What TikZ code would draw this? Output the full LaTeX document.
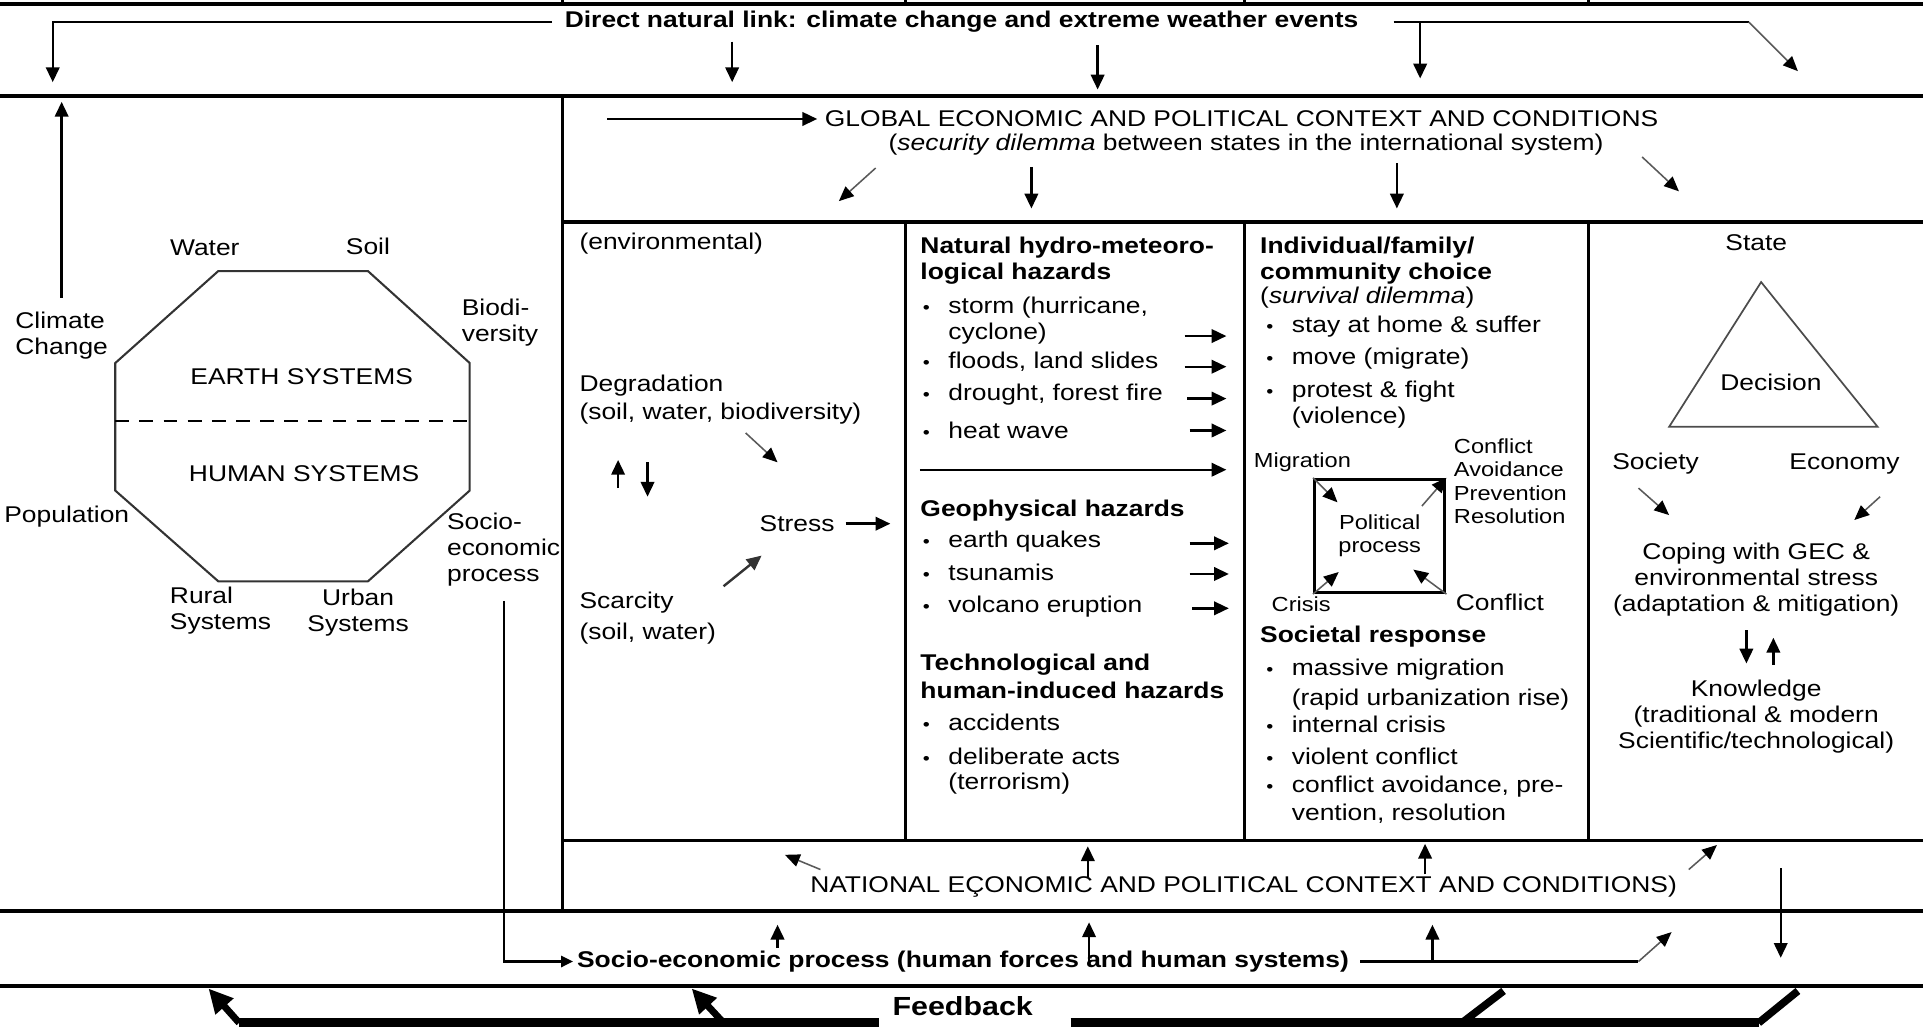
\documentclass[tikz,border=0pt]{standalone}
\usepackage{fontspec}
\setmainfont{Liberation Sans}[FakeStretch=1.16]
\usetikzlibrary{arrows.meta,calc}
\newcommand{\ft}{\fontsize{6.6}{7.5}\selectfont}
\newcommand{\fs}{\fontsize{5.9}{6.8}\selectfont}
\newcommand{\bul}{\makebox[7.4pt][l]{\fontsize{5}{5}\selectfont\textbullet}}
\newcommand{\ind}{\hspace*{7.4pt}}
\tikzstyle{frm}=[line width=1.1pt]
\tikzstyle{col}=[line width=.9pt]
\tikzstyle{arr}=[line width=.7pt, -{Triangle[length=4.3pt,width=3.9pt]}]
\tikzstyle{darr}=[line width=.45pt, draw=black!65, -{Triangle[length=4.3pt,width=3.7pt,black]}]
\tikzstyle{txt}=[inner sep=0pt, anchor=west]
\tikzstyle{ctr}=[inner sep=0pt]
\tikzstyle{blk}=[inner sep=0pt, anchor=north west, align=left]
\tikzstyle{cblk}=[inner sep=0pt, anchor=north, align=center]
\tikzstyle{bar}=[line width=2.6pt]
\tikzstyle{fbarr}=[line width=2pt, -{Triangle[length=7pt,width=6.6pt]}]

\begin{document}
\begin{tikzpicture}[x=0.0125cm, y=-0.0125cm, font=\ft]
\useasboundingbox (0,0) rectangle (1568,838);

\draw[frm] (0,3) -- (1568,3);
\draw[col] (459,0) -- (459,3) (738,0) -- (738,3) (1015,0) -- (1015,3) (1295,0) -- (1295,3);
\draw[frm] (0,78) -- (1568,78);
\draw[col] (459,78) -- (459,743);
\draw[frm] (459,181) -- (1568,181);
\draw[col] (738,181) -- (738,685) (1015,181) -- (1015,685) (1295,181) -- (1295,685);
\draw[col] (459,685) -- (1568,685);
\draw[frm] (0,743) -- (1568,743);
\draw[frm] (0,804) -- (1568,804);

\node[txt, font=\ft\bfseries] (dnl) at (460,18) {Direct natural link: climate change and extreme weather events};
\path (43,67) coordinate (td1) (597,34) coordinate (td2) (597,67) coordinate (td3)
  (895,37) coordinate (td4) (895,73) coordinate (td5) (1426,18) coordinate (td6)
  (1466,58) coordinate (td7) (1158,18) coordinate (td8) (1158,64) coordinate (td9);
\draw[arr] ([xshift=-3.5pt]dnl.west) -| (td1);
\draw[arr] (td2) -- (td3);
\draw[arr] (td4) -- (td5);
\draw[line width=.8pt] ([xshift=10pt]dnl.east) -- (td6);
\draw[darr] (td6) -- (td7);
\draw[arr] (td8) -- (td9);

\draw[line width=.6pt, draw=black!80] (178,221) -- (300,221) -- (383,296) -- (383,400) -- (300,474) -- (178,474) -- (94,400) -- (94,296) -- cycle;
\draw[line width=.6pt, dash pattern=on 4pt off 3pt] (94,343) -- (383,343);
\node[ctr] (es) at (246,307) {EARTH SYSTEMS};
\node[ctr] (hs) at (248,386) {HUMAN SYSTEMS};
\node[ctr] (wat) at (167,202) {Water};
\node[ctr] (soil) at (300,201) {Soil};
\node[blk] (bio) at (376,243) {Biodi-\\versity};
\node[txt] (pop) at (3,421) {Population};
\node[blk] (sep) at (364,418) {Socio-\\economic\\process};
\node[blk] (rur) at (138,478) {Rural\\Systems};
\node[cblk] (urb) at (292,480) {Urban\\Systems};
\node[blk] (cc) at (12,254) {Climate\\Change};
\coordinate (cl1) at (47,83);
\draw[arr] ([yshift=4pt]cc.north) -- (cc.north |- cl1);

\node[txt] (gl) at (672,97) {GLOBAL ECONOMIC AND POLITICAL CONTEXT AND CONDITIONS};
\node[ctr] (sdl) at (1016,118) {(\textit{security dilemma} between states in the international system)};
\path (495,97) coordinate (gg0) (714,137) coordinate (gg1) (684,164) coordinate (gg2)
  (841,136) coordinate (gg3) (841,170) coordinate (gg4) (1139,133) coordinate (gg5)
  (1139,170) coordinate (gg6) (1339,128) coordinate (gg7) (1369,156) coordinate (gg8);
\draw[arr] (gg0) -- ([xshift=-2pt]gl.west);
\draw[darr] (gg1) -- (gg2);
\draw[arr] (gg3) -- (gg4);
\draw[arr] (gg5) -- (gg6);
\draw[darr] (gg7) -- (gg8);

\node[txt] (env) at (472,199) {(environmental)};
\node[blk] (deg) at (472,305) {Degradation\\[.8pt](soil, water, biodiversity)};
\node[ctr] (str) at (650,427) {Stress};
\node[blk] (sca) at (472,482) {Scarcity\\[1.5pt](soil, water)};
\path (504,398) coordinate (e1a) (504,375) coordinate (e1b) (528,377) coordinate (e2a)
  (528,405) coordinate (e2b) (608,353) coordinate (e3a) (634,377) coordinate (e3b)
  (726,427) coordinate (e4) (590,478) coordinate (e5a) (621,453) coordinate (e5b);
\draw[arr] (e1a) -- (e1b);
\draw[arr] (e2a) -- (e2b);
\draw[darr] (e3a) -- (e3b);
\draw[arr] ([xshift=3pt]str.east) -- (e4);
\draw[arr, draw=black!80] (e5a) -- (e5b);

\node[blk, font=\ft\bfseries] (nh) at (750,193) {Natural hydro-meteoro-\\logical hazards};
\node[blk] (h1) at (752,242) {\bul storm (hurricane,\\\ind cyclone)};
\node[txt] (h2) at (752,295) {\bul floods, land slides};
\node[txt] (h3) at (752,322) {\bul drought, forest fire};
\node[txt] (h4) at (752,351) {\bul heat wave};
\node[txt, font=\ft\bfseries] (gh) at (750,416) {Geophysical hazards};
\node[txt] (q1) at (752,442) {\bul earth quakes};
\node[txt] (q2) at (752,467) {\bul tsunamis};
\node[txt] (q3) at (752,495) {\bul volcano eruption};
\node[blk, font=\ft\bfseries] (th) at (750,533) {Technological and\\[.6pt]human-induced hazards};
\node[txt] (t1) at (752,589) {\bul accidents};
\node[blk] (t2) at (752,609) {\bul deliberate acts\\\ind (terrorism)};
\path (966,274) coordinate (h1a) (1000,274) coordinate (h1b) (966,299) coordinate (h2a)
  (1000,299) coordinate (h2b) (968,325) coordinate (h3a) (1000,325) coordinate (h3b)
  (970,351) coordinate (h4a) (1000,351) coordinate (h4b) (750,383) coordinate (hla)
  (1000,383) coordinate (hlb) (970,443) coordinate (q1a) (1002,443) coordinate (q1b)
  (970,468) coordinate (q2a) (1002,468) coordinate (q2b) (972,496) coordinate (q3a)
  (1002,496) coordinate (q3b);
\draw[arr] (h1a) -- (h1b);
\draw[arr] (h2a) -- (h2b);
\draw[arr] (h3a) -- (h3b);
\draw[arr] (h4a) -- (h4b);
\draw[arr] (hla) -- (hlb);
\draw[arr] (q1a) -- (q1b);
\draw[arr] (q2a) -- (q2b);
\draw[arr] (q3a) -- (q3b);

\node[blk, font=\ft\bfseries] (ic) at (1027,193) {Individual/family/\\community choice};
\node[txt] (sv) at (1027,243) {(\textit{survival dilemma})};
\node[txt] (c1) at (1032,266) {\bul stay at home \& suffer};
\node[txt] (c2) at (1032,292) {\bul move (migrate)};
\node[blk] (c3) at (1032,310) {\bul protest \& fight\\\ind (violence)};
\node[draw, line width=1pt, minimum width=1.325cm, minimum height=1.15cm, align=center, inner sep=0pt, font=\fs] (pp) at (1125,437) {Political\\process};
\node[ctr, font=\fs] (mig) at (1062,377) {Migration};
\node[blk, font=\fs] (cav) at (1185,357) {Conflict\\Avoidance\\Prevention\\Resolution};
\node[ctr, font=\fs] (cri) at (1061,493) {Crisis};
\node[ctr] (con) at (1223,491) {Conflict};
\draw[darr] (pp.north west) -- ++(20,20);
\draw[darr] ($(pp.north east)+(-20,23)$) -- (pp.north east);
\draw[darr] (pp.south west) -- ++(21,-18);
\draw[darr] (pp.south east) -- ++(-27,-20);
\node[txt, font=\ft\bfseries] (sr) at (1027,519) {Societal response};
\node[blk] (s1) at (1032,537) {\bul massive migration\\[1pt]\ind (rapid urbanization rise)};
\node[txt] (s2) at (1032,591) {\bul internal crisis};
\node[txt] (s3) at (1032,617) {\bul violent conflict};
\node[blk] (s4) at (1032,632) {\bul conflict avoidance, pre-\\[.6pt]\ind vention, resolution};

\node[ctr] (st) at (1432,198) {State};
\draw[line width=.5pt, draw=black!70] (1436,230) -- (1531,348) -- (1361,348) -- cycle;
\node[ctr] (dec) at (1444,312) {Decision};
\node[ctr] (soc) at (1350,378) {Society};
\node[ctr] (eco) at (1504,378) {Economy};
\node[cblk] (cop) at (1432,442) {Coping with GEC \&\\environmental stress\\(adaptation \& mitigation)};
\node[cblk] (kn) at (1432,554) {Knowledge\\(traditional \& modern\\Scientific/technological)};
\path (1336,398) coordinate (o1a) (1361,420) coordinate (o1b) (1533,405) coordinate (o2a)
  (1512,424) coordinate (o2b) (1424,514) coordinate (k1a) (1424,541) coordinate (k1b)
  (1446,542) coordinate (k2a) (1446,520) coordinate (k2b);
\draw[darr] (o1a) -- (o1b);
\draw[darr] (o2a) -- (o2b);
\draw[arr] (k1a) -- (k1b);
\draw[arr] (k2a) -- (k2b);

\node[ctr] (nat) at (1014,723) {NATIONAL E\c{C}ONOMIC AND POLITICAL CONTEXT AND CONDITIONS)};
\path (669,709) coordinate (n1a) (640,697) coordinate (n1b) (887,715) coordinate (n2a)
  (887,690) coordinate (n2b) (1162,713) coordinate (n3a) (1162,688) coordinate (n3b)
  (1377,709) coordinate (n4a) (1400,689) coordinate (n4b);
\draw[darr] (n1a) -- (n1b);
\draw[arr] (n2a) -- (n2b);
\draw[arr] (n3a) -- (n3b);
\draw[darr] (n4a) -- (n4b);

\node[txt, font=\ft\bfseries] (se) at (470,784) {Socio-economic process (human forces and human systems)};
\path (411,490) coordinate (p0) (634,773) coordinate (p1a) (634,754) coordinate (p1b)
  (888,784) coordinate (p2a) (888,752) coordinate (p2b) (1336,784) coordinate (p3)
  (1363,760) coordinate (p4) (1168,784) coordinate (p5a) (1168,754) coordinate (p5b)
  (1452,708) coordinate (p6a) (1452,781) coordinate (p6b);
\draw[line width=.7pt, -{Triangle[length=3.4pt,width=3.2pt]}] (p0) |- ([xshift=-1pt]se.west);
\draw[arr] (p1a) -- (p1b);
\draw[arr] (p2a) -- (p2b);
\draw[line width=.7pt] ([xshift=3pt]se.east) -- (p3);
\draw[darr] (p3) -- (p4);
\draw[arr] (p5a) -- (p5b);
\draw[arr] (p6a) -- (p6b);

\node[ctr, font=\fontsize{7.6}{8}\selectfont\bfseries] (fbk) at (785,820) {Feedback};
\path (195,834) coordinate (f0) (717,834) coordinate (f1) (873,834) coordinate (f2)
  (1434,834) coordinate (f3) (170,806) coordinate (f4) (590,834) coordinate (f5)
  (564,806) coordinate (f6) (1192,834) coordinate (f7) (1226,808) coordinate (f8)
  (1466,808) coordinate (f9);
\draw[bar] (f0) -- (f1);
\draw[bar] (f2) -- (f3);
\draw[fbarr] (f0) -- (f4);
\draw[fbarr] (f5) -- (f6);
\draw[line width=2.2pt] (f7) -- (f8);
\draw[line width=2.2pt] (f3) -- (f9);
\end{tikzpicture}
\end{document}
